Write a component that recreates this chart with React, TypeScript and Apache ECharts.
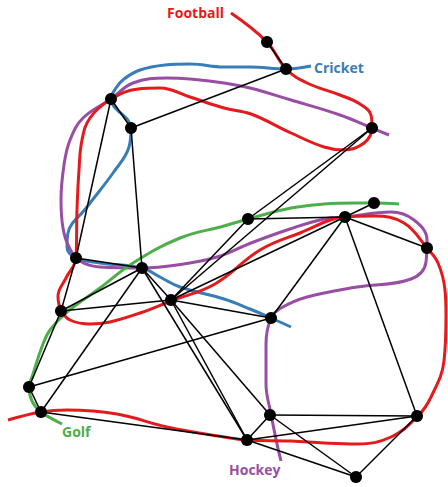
import React, { useEffect, useRef } from "react";
import * as echarts from "echarts";

// Node positions (value coordinates, y grows downward)
const nodes: [number, number][] = [
  [267, 42], // 0
  [286, 69], // 1
  [111, 99], // 2
  [131, 128], // 3
  [372, 128], // 4
  [248, 219], // 5
  [374, 203], // 6
  [345, 217], // 7
  [427, 248], // 8
  [76, 258], // 9
  [142, 268], // 10
  [171, 300], // 11
  [61, 311], // 12
  [271, 318], // 13
  [29, 387], // 14
  [41, 412], // 15
  [270, 415], // 16
  [417, 416], // 17
  [247, 440], // 18
  [356, 477], // 19
];

const edges: [number, number][] = [
  [0, 1], [1, 3], [2, 3], [2, 9], [3, 10], [4, 5], [4, 11], [5, 7], [5, 11],
  [6, 7], [7, 8], [7, 11], [7, 13], [7, 17], [9, 10], [9, 12], [10, 11],
  [10, 12], [10, 15], [10, 18], [11, 12], [11, 13], [11, 16], [11, 18],
  [12, 14], [13, 14], [14, 15], [15, 18], [16, 17], [16, 18], [16, 19],
  [17, 18], [17, 19], [18, 19],
];

const footballPath: [number, number][] = [
  [231, 13], [267, 42], [286, 69], [307, 83], [340, 95], [360, 104], [371, 115],
  [372, 128], [364, 143], [344, 150], [324, 147], [291, 133], [251, 114],
  [224, 108], [190, 97], [160, 88], [138, 89], [111, 99], [90, 118], [82, 140],
  [79, 170], [77, 210], [76, 258], [66, 278], [58, 296], [61, 310], [70, 320],
  [90, 324], [110, 322], [140, 313], [171, 301], [215, 284], [260, 250],
  [300, 233], [345, 217], [374, 216], [404, 223], [427, 248], [438, 263],
  [445, 290], [446, 315], [444, 361], [431, 397], [418, 416], [391, 437],
  [357, 444], [324, 443], [291, 441], [247, 440], [224, 437], [167, 427],
  [117, 414], [67, 410], [41, 412], [8, 420],
];

const cricketPath: [number, number][] = [
  [311, 66], [286, 69], [250, 67], [224, 67], [190, 64], [165, 65], [140, 70],
  [124, 79], [116, 88], [111, 99], [131, 128], [129, 147], [113, 173],
  [87, 207], [68, 233], [67, 247], [76, 258], [100, 263], [142, 268],
  [160, 277], [180, 287], [224, 299], [250, 309], [271, 318], [291, 327],
];

const hockeyPath: [number, number][] = [
  [389, 135], [372, 128], [340, 115], [291, 100], [250, 88], [224, 83],
  [190, 79], [167, 78], [133, 83], [111, 99], [83, 118], [70, 140], [64, 165],
  [61, 200], [63, 228], [69, 247], [80, 261], [100, 267], [142, 268],
  [177, 265], [217, 257], [251, 243], [290, 229], [324, 219], [345, 217],
  [391, 212], [414, 220], [427, 240], [426, 262], [411, 279], [357, 287],
  [307, 297], [281, 308], [271, 318], [266, 344], [266, 384], [271, 414],
  [277, 444], [281, 461],
];

const golfPath: [number, number][] = [
  [399, 204], [374, 203], [357, 203], [324, 204], [291, 208], [248, 219],
  [224, 226], [180, 238], [133, 263], [100, 288], [67, 312], [50, 330],
  [43, 344], [32, 377], [29, 387], [32, 401], [41, 412], [62, 424],
];

const labels = [
  { text: "Football", color: "#e41a1c", x: 224, y: 12, align: "right" },
  { text: "Cricket", color: "#377eb8", x: 314, y: 67, align: "left" },
  { text: "Golf", color: "#4daf4a", x: 62, y: 431, align: "left" },
  { text: "Hockey", color: "#984ea3", x: 229, y: 469, align: "left" },
];

const W = 448;
const H = 487;

function curve(name: string, data: [number, number][], color: string, z: number) {
  return {
    name,
    type: "line",
    data,
    smooth: 0.4,
    showSymbol: false,
    symbol: "none",
    lineStyle: { color, width: 3 },
    z,
    silent: true,
  };
}

export default function App() {
  const ref = useRef<HTMLDivElement>(null);
  useEffect(() => {
    if (!ref.current) return;
    const chart = echarts.init(ref.current, undefined, { renderer: "svg" });
    chart.setOption({
      animation: false,
      grid: { left: 0, right: 0, top: 0, bottom: 0 },
      xAxis: { type: "value", min: 0, max: W, show: false },
      yAxis: { type: "value", min: 0, max: H, inverse: true, show: false },
      series: [
        curve("Cricket", cricketPath, "#377eb8", 1),
        curve("Hockey", hockeyPath, "#984ea3", 2),
        curve("Golf", golfPath, "#4daf4a", 3),
        curve("Football", footballPath, "#e41a1c", 4),
        {
          type: "graph",
          coordinateSystem: "cartesian2d",
          layout: "none",
          z: 10,
          symbol: "circle",
          symbolSize: 12,
          itemStyle: { color: "#000" },
          lineStyle: { color: "#000", width: 1.5, opacity: 1, curveness: 0 },
          label: { show: false },
          data: nodes.map((p) => ({ value: p })),
          links: edges.map(([s, t]) => ({ source: s, target: t })),
          silent: true,
        },
      ],
      graphic: labels.map((l) => ({
        type: "text",
        x: l.x,
        y: l.y,
        style: {
          text: l.text,
          fill: l.color,
          font: "bold 14px 'Open Sans', sans-serif",
          textAlign: l.align,
          textVerticalAlign: "middle",
        },
        z: 20,
      })),
    });
    return () => chart.dispose();
  }, []);
  return (
    <div
      ref={ref}
      style={{ position: "fixed", left: 0, top: 0, width: W, height: H, background: "#fff" }}
    />
  );
}
